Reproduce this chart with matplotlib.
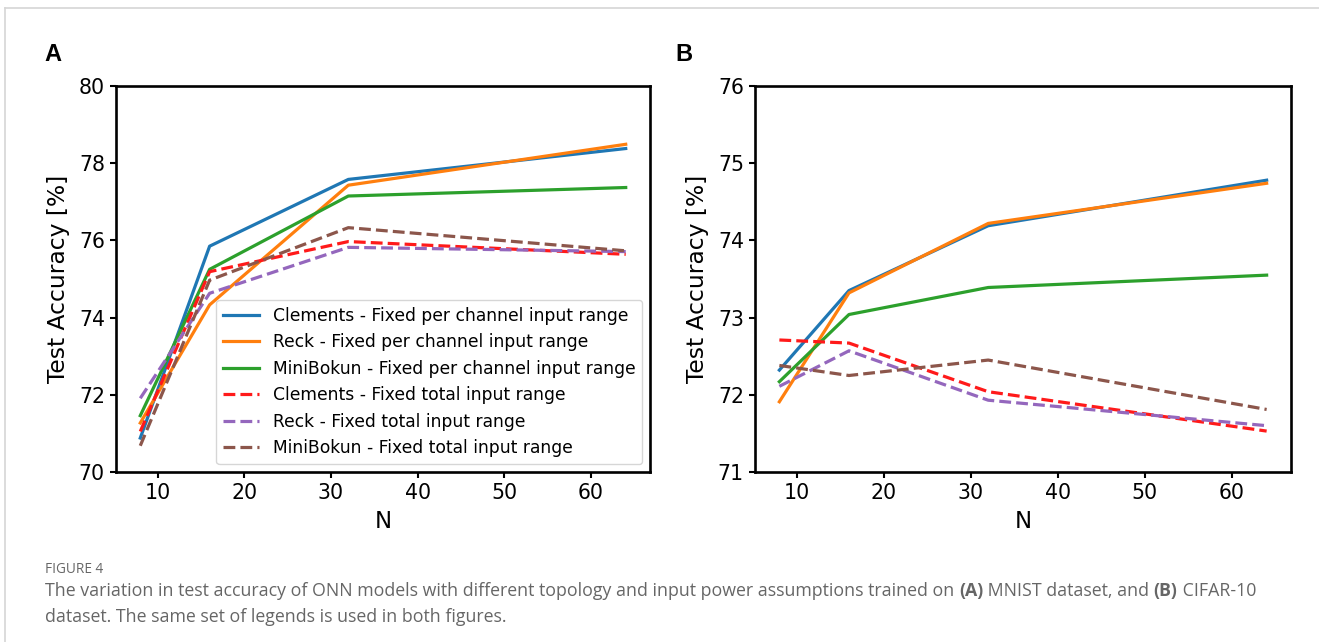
import matplotlib
matplotlib.use("Agg")
import matplotlib.pyplot as plt
from matplotlib.lines import Line2D
from matplotlib.text import Annotation

# ------------------------------------------
# Test accuracy vs. mesh size N
# ------------------------------------------
n_values = [8, 16, 32, 64]

series_labels = [
    "Clements - Fixed per channel input range",
    "Reck - Fixed per channel input range",
    "MiniBokun - Fixed per channel input range",
    "Clements - Fixed total input range",
    "Reck - Fixed total input range",
    "MiniBokun - Fixed total input range",
]

# (A) MNIST
mnist_clements_pc = [70.88, 75.85, 77.58, 78.38]
mnist_reck_pc = [71.27, 74.33, 77.43, 78.49]
mnist_minibokun_pc = [71.46, 75.25, 77.15, 77.37]
mnist_clements_tot = [71.05, 75.19, 75.97, 75.64]
mnist_reck_tot = [71.91, 74.63, 75.82, 75.71]
mnist_minibokun_tot = [70.68, 74.97, 76.33, 75.73]

# (B) CIFAR-10
cifar_clements_pc = [72.32, 73.35, 74.19, 74.78]
cifar_reck_pc = [71.91, 73.32, 74.22, 74.74]
cifar_minibokun_pc = [72.17, 73.04, 73.39, 73.55]
cifar_clements_tot = [72.71, 72.67, 72.04, 71.53]
cifar_reck_tot = [72.11, 72.57, 71.93, 71.60]
cifar_minibokun_tot = [72.38, 72.25, 72.45, 71.81]

mnist_ticks = [70, 72, 74, 76, 78, 80]
cifar_ticks = [71, 72, 73, 74, 75, 76]
x_ticks = [10, 20, 30, 40, 50, 60]

colors = ["#1f77b4", "#ff7f0e", "#2ca02c", "#ff1a1a", "#9467bd", "#8c564b"]
styles = ["-", "-", "-", "--", "--", "--"]

W, H = 1319, 642
fig = plt.figure(figsize=(W / 100, H / 100), dpi=100)
fig.patch.set_facecolor("white")


def px_axes(left, top, right, bottom):
    return fig.add_axes([left / W, 1 - bottom / H, (right - left) / W, (bottom - top) / H])


def draw_panel(ax, series, yticks, show_legend):
    for vals, lab, c, ls in zip(series, series_labels, colors, styles):
        ax.plot(n_values, vals, color=c, ls=ls, lw=2.3, label=lab)
    ax.set_ylim(yticks[0], yticks[-1])
    ax.set_yticks(yticks)
    ax.set_xticks(x_ticks)
    ax.tick_params(labelsize=14.8, width=1.5, length=4, pad=4)
    for sp in ax.spines.values():
        sp.set_linewidth(1.9)
    ax.set_xlabel("N", fontsize=16.5, labelpad=5)
    ax.set_ylabel("Test Accuracy [%]", fontsize=16.8, labelpad=6)
    if show_legend:
        ax.legend(loc="lower right", fontsize=12.3, handlelength=2.1, borderaxespad=0.45)


ax_a = px_axes(116, 86, 650, 472)
draw_panel(ax_a, [mnist_clements_pc, mnist_reck_pc, mnist_minibokun_pc,
                  mnist_clements_tot, mnist_reck_tot, mnist_minibokun_tot],
           mnist_ticks, True)

ax_b = px_axes(755, 86, 1291, 472)
draw_panel(ax_b, [cifar_clements_pc, cifar_reck_pc, cifar_minibokun_pc,
                  cifar_clements_tot, cifar_reck_tot, cifar_minibokun_tot],
           cifar_ticks, False)

# panel letters
for letter, x in [("A", 44), ("B", 675)]:
    fig.text(x / W, 1 - 61 / H, letter, fontsize=17, fontweight="bold",
             family="Liberation Sans", ha="left", va="baseline")

# thin page frame (top and left)
frame = "#d6d6d6"
fig.add_artist(Line2D([5 / W, 1], [1 - 7.5 / H, 1 - 7.5 / H], color=frame, lw=1.2))
fig.add_artist(Line2D([5 / W, 5 / W], [0, 1 - 7.5 / H], color=frame, lw=1.2))

# caption
cap_color = "#666666"
cap_font = "Open Sans"
cap_size = 12.8
fig.text(45 / W, 1 - 573 / H, "FIGURE 4", fontsize=9.8, color=cap_color,
         family=cap_font, va="baseline")


def caption_line(x, y, parts):
    prev = fig.text(x / W, 1 - y / H, parts[0][0], fontsize=cap_size, color=cap_color,
                    family=cap_font, fontweight=parts[0][1], va="bottom")
    for txt, weight in parts[1:]:
        a = Annotation(txt, xy=(1, 0), xycoords=prev, xytext=(0, 0),
                       textcoords="offset points", fontsize=cap_size, color=cap_color,
                       family=cap_font, fontweight=weight, va="bottom", ha="left")
        fig.add_artist(a)
        prev = a


caption_line(45, 600, [
    ("The variation in test accuracy of ONN models with different topology and input power "
     "assumptions trained on ", "normal"),
    ("(A)", "bold"),
    (" MNIST dataset, and ", "normal"),
    ("(B)", "bold"),
    (" CIFAR-10", "normal"),
])
caption_line(45, 626, [("dataset. The same set of legends is used in both figures.", "normal")])

fig.savefig("out.png", dpi=100, facecolor="white")
